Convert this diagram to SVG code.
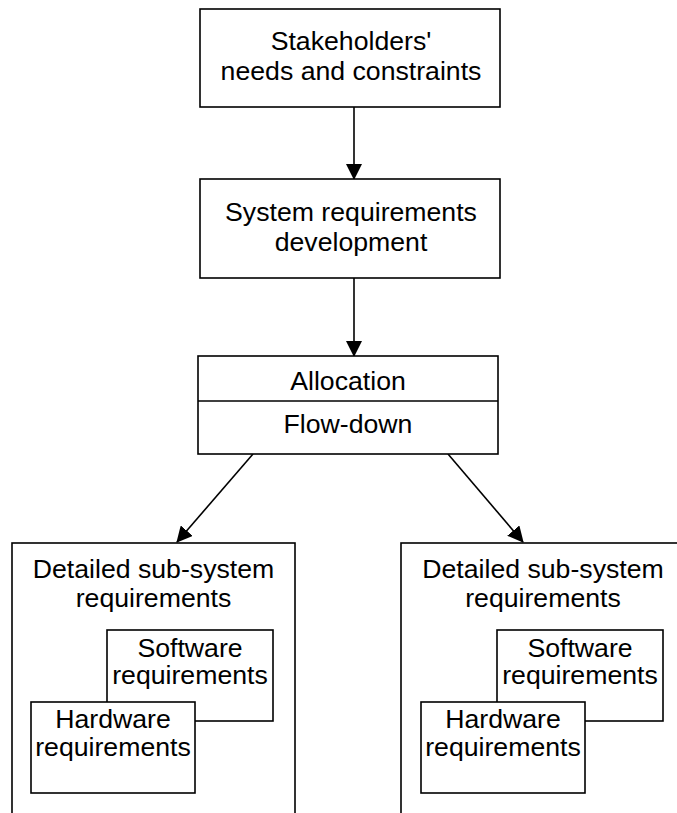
<svg xmlns="http://www.w3.org/2000/svg" width="677" height="813" viewBox="0 0 677 813">
  <style>
    .box { fill: #ffffff; stroke: #000000; stroke-width: 1.6; }
    .lbl { font-family: "Liberation Sans", Arial, sans-serif; font-size: 26.67px; fill: #000000; text-anchor: middle; }
    .conn { stroke: #000000; stroke-width: 1.6; fill: none; marker-end: url(#arrow); }
  </style>
  <defs>
    <marker id="arrow" markerUnits="userSpaceOnUse" markerWidth="16" markerHeight="16" viewBox="0 0 16 16" refX="15" refY="8" orient="auto">
      <path d="M0,0 L16,8 L0,16 Z" fill="#000000"/>
    </marker>
  </defs>
  <rect width="677" height="813" fill="#ffffff"/>

  <!-- connectors -->
  <g id="connectors">
    <line class="conn" x1="354" y1="107" x2="354" y2="179"/>
    <line class="conn" x1="354" y1="278" x2="354" y2="356"/>
    <line class="conn" x1="253" y1="454" x2="177" y2="542"/>
    <line class="conn" x1="448" y1="454" x2="523" y2="542"/>
  </g>

  <g id="stakeholders">
    <rect class="box" x="200" y="9" width="300" height="98"/>
    <text class="lbl" x="351" y="50">Stakeholders'</text>
    <text class="lbl" x="351" y="80">needs and constraints</text>
  </g>

  <g id="system-req">
    <rect class="box" x="200" y="179" width="300" height="99"/>
    <text class="lbl" x="351" y="221">System requirements</text>
    <text class="lbl" x="351" y="251">development</text>
  </g>

  <g id="allocation">
    <rect class="box" x="198" y="356" width="300" height="98"/>
    <line x1="198" y1="401" x2="498" y2="401" stroke="#000000" stroke-width="1.6"/>
    <text class="lbl" x="348" y="390">Allocation</text>
    <text class="lbl" x="348" y="433">Flow-down</text>
  </g>

  <g id="subsystem-left">
    <rect class="box" x="12" y="543" width="283" height="300"/>
    <text class="lbl" x="153.5" y="578">Detailed sub-system</text>
    <text class="lbl" x="153.5" y="607">requirements</text>
    <g id="software-left">
      <rect class="box" x="107" y="630" width="166" height="91"/>
      <text class="lbl" x="190" y="657">Software</text>
      <text class="lbl" x="190" y="684">requirements</text>
    </g>
    <g id="hardware-left">
      <rect class="box" x="31" y="702" width="164" height="91"/>
      <text class="lbl" x="113" y="728">Hardware</text>
      <text class="lbl" x="113" y="756">requirements</text>
    </g>
  </g>

  <g id="subsystem-right">
    <rect class="box" x="401" y="543" width="283" height="300"/>
    <text class="lbl" x="543" y="578">Detailed sub-system</text>
    <text class="lbl" x="543" y="607">requirements</text>
    <g id="software-right">
      <rect class="box" x="497" y="630" width="166" height="91"/>
      <text class="lbl" x="580" y="657">Software</text>
      <text class="lbl" x="580" y="684">requirements</text>
    </g>
    <g id="hardware-right">
      <rect class="box" x="421" y="702" width="164" height="91"/>
      <text class="lbl" x="503" y="728">Hardware</text>
      <text class="lbl" x="503" y="756">requirements</text>
    </g>
  </g>
</svg>
